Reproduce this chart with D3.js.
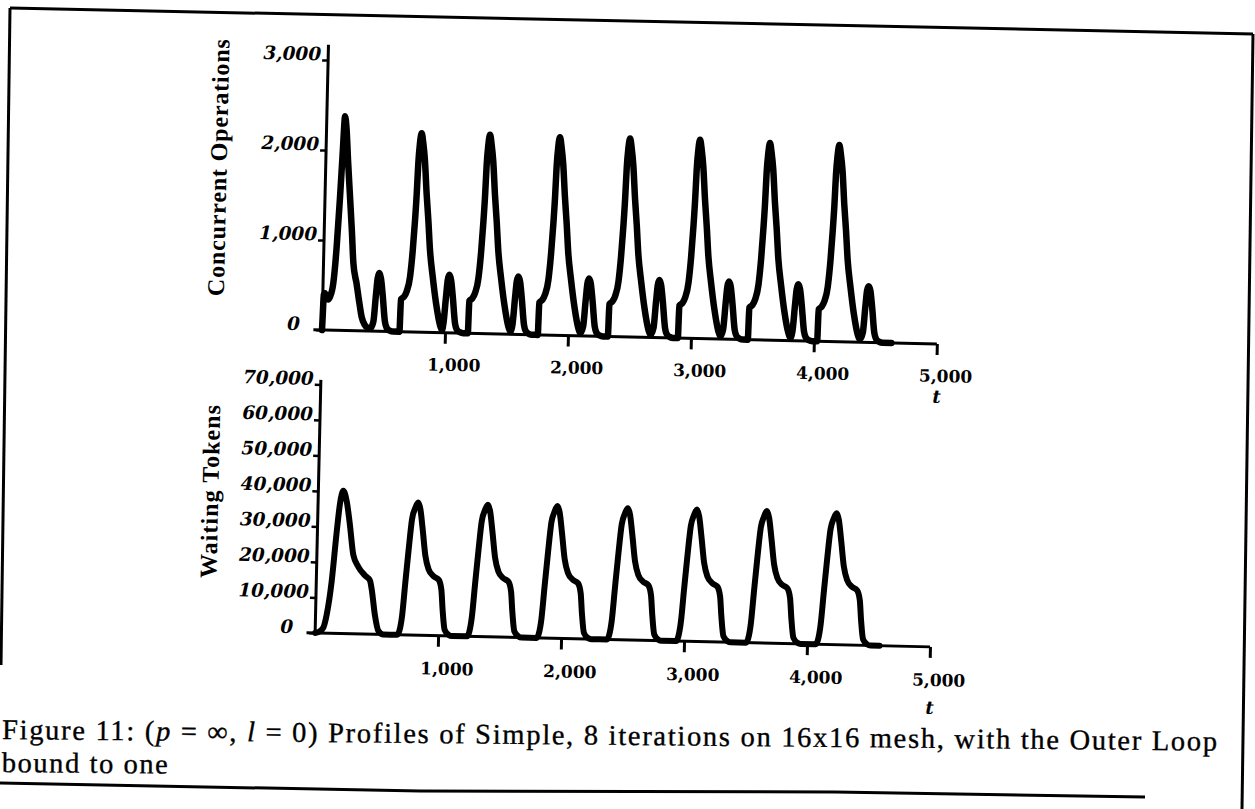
<!DOCTYPE html>
<html>
<head>
<meta charset="utf-8">
<script src="https://cdn.jsdelivr.net/npm/d3@7"></script>
<style>
    html, body { margin: 0; padding: 0; background: #ffffff; }
    svg { display: block; }
</style>
</head>
<body>
<div id="figure"></div>
<script>
// tick values
const tTicks = [1000, 2000, 3000, 4000, 5000];
const opsTicks = [0, 1000, 2000, 3000];
const tokenTicks = [0, 10000, 20000, 30000, 40000, 50000, 60000, 70000];

// [t, concurrent operations], one line per iteration
const concurrentOps = [
    [0,0],[3,150],[8,390],[18,410],[30,350],[45,340],[59,370],[83,520],[104,930],[122,1480],[135,1950],[148,2380],[162,2250],[180,1900],[203,1490],[225,1100],[242,760],[273,520],[300,300],[320,155],[345,70],[365,40],[395,35],[416,107],[432,402],[443,588],[455,648],[470,588],[487,402],[510,107],[525,40],[550,10],[580,0],
    [630,0],[636,360],[660,390],[681,450],[706,615],[723,910],[736,1245],[745,1545],[752,1875],[762,2100],[774,2210],[789,2100],[805,1915],[825,1545],[844,1250],[863,915],[890,620],[922,325],[958,85],[975,30],[986,107],[1002,402],[1013,588],[1025,645],[1040,588],[1057,402],[1080,107],[1095,40],[1120,10],[1150,0],
    [1186,0],[1192,360],[1216,390],[1237,450],[1262,615],[1279,910],[1292,1245],[1301,1545],[1308,1875],[1318,2100],[1330,2210],[1345,2100],[1361,1915],[1381,1545],[1400,1250],[1419,915],[1446,620],[1478,325],[1514,85],[1531,30],[1547,107],[1563,402],[1574,588],[1586,645],[1601,588],[1618,402],[1641,107],[1656,40],[1681,10],[1711,0],
    [1755,0],[1761,360],[1785,390],[1806,450],[1831,615],[1848,910],[1861,1245],[1870,1545],[1877,1875],[1887,2100],[1899,2200],[1914,2090],[1930,1905],[1950,1540],[1969,1245],[1988,910],[2015,620],[2047,325],[2083,85],[2100,30],[2122,107],[2138,402],[2149,585],[2161,640],[2176,585],[2193,402],[2216,107],[2231,40],[2256,10],[2286,0],
    [2325,0],[2331,360],[2355,390],[2376,450],[2401,615],[2418,910],[2431,1245],[2440,1545],[2447,1875],[2457,2100],[2469,2205],[2484,2095],[2500,1910],[2520,1540],[2539,1245],[2558,910],[2585,620],[2617,325],[2653,85],[2670,30],[2694,107],[2710,402],[2721,585],[2733,640],[2748,585],[2765,402],[2788,107],[2803,40],[2828,10],[2858,0],
    [2894,0],[2900,360],[2924,390],[2945,450],[2970,615],[2987,910],[3000,1245],[3009,1545],[3016,1875],[3026,2100],[3038,2210],[3053,2100],[3069,1915],[3089,1545],[3108,1250],[3127,915],[3154,620],[3186,325],[3222,85],[3239,30],[3260,107],[3276,402],[3287,585],[3299,640],[3314,585],[3331,402],[3354,107],[3369,40],[3394,10],[3424,0],
    [3463,0],[3469,355],[3493,385],[3514,445],[3539,610],[3556,900],[3569,1235],[3578,1530],[3585,1860],[3595,2080],[3607,2190],[3622,2080],[3638,1900],[3658,1530],[3677,1240],[3696,905],[3723,615],[3755,320],[3791,85],[3808,30],[3824,105],[3840,395],[3851,575],[3863,628],[3878,575],[3895,395],[3918,105],[3933,40],[3958,10],[3988,0],
    [4027,0],[4033,355],[4057,385],[4078,445],[4103,610],[4120,900],[4133,1235],[4142,1525],[4149,1855],[4159,2075],[4171,2185],[4186,2075],[4202,1895],[4222,1525],[4241,1235],[4260,905],[4287,615],[4319,320],[4355,85],[4372,30],[4396,105],[4412,395],[4423,575],[4435,625],[4450,575],[4467,395],[4490,105],[4505,40],[4530,10],[4560,0],[4630,0]
];

// [t, waiting tokens], one line per iteration
const waitingTokens = [
    [0,0],[30,300],[65,1500],[91,5300],[125,14650],[157,28700],[178,36500],[203,40200],[233,37200],[263,30600],[296,22200],[339,18900],[395,16500],[436,15100],[451,12800],[483,5300],[513,1000],[554,0],
    [668,0],[685,1200],[704,5500],[724,14850],[745,24200],[767,32700],[791,35800],[813,37400],[833,35500],[855,29900],[882,22400],[911,18600],[953,16700],[994,15800],[1018,13000],[1032,7300],[1052,1700],[1086,300],[1113,0],
    [1235,0],[1252,1200],[1271,5500],[1291,14800],[1312,24100],[1334,32600],[1358,35700],[1380,37200],[1400,35400],[1422,29800],[1449,22300],[1478,18500],[1520,16600],[1561,15700],[1585,12900],[1599,7200],[1619,1700],[1653,300],[1680,0],
    [1801,0],[1818,1200],[1837,5500],[1857,14800],[1878,24100],[1900,32600],[1924,35700],[1946,37300],[1966,35400],[1988,29800],[2015,22300],[2044,18500],[2086,16600],[2127,15700],[2151,12900],[2165,7200],[2185,1700],[2219,300],[2246,0],
    [2373,0],[2390,1200],[2409,5500],[2429,14800],[2450,24100],[2472,32500],[2496,35600],[2518,37100],[2538,35300],[2560,29700],[2587,22200],[2616,18400],[2658,16500],[2699,15600],[2723,12800],[2737,7200],[2757,1700],[2791,300],[2818,0],
    [2935,0],[2952,1200],[2971,5500],[2991,14800],[3012,24100],[3034,32500],[3058,35600],[3080,37200],[3100,35300],[3122,29700],[3149,22200],[3178,18400],[3220,16500],[3261,15600],[3285,12800],[3299,7200],[3319,1700],[3353,300],[3380,0],
    [3504,0],[3521,1200],[3540,5500],[3560,14800],[3581,24100],[3603,32500],[3627,35600],[3649,37200],[3669,35300],[3691,29700],[3718,22200],[3747,18400],[3789,16500],[3830,15600],[3854,12800],[3868,7200],[3888,1700],[3922,300],[3949,0],
    [4071,0],[4088,1200],[4107,5500],[4127,14700],[4148,24000],[4170,32400],[4194,35500],[4216,37000],[4236,35200],[4258,29600],[4285,22100],[4314,18300],[4356,16400],[4397,15500],[4421,12700],[4435,7100],[4455,1700],[4489,300],[4516,0],[4590,0]
];

const captionParts = [
    ["Figure 11: (", "normal"], ["p", "italic"], [" = \u221E, ", "normal"], ["l", "italic"],
    [" = 0) Profiles of Simple, 8 iterations on 16x16 mesh, with the Outer Loop", "normal"]
];
const captionLine2 = "bound to one";

(function (d3) {
    "use strict";

    const width = 1255;
    const height = 809;
    const serif = "'Liberation Serif', 'Times New Roman', serif";
    const numFont = "'DejaVu Serif', serif";
    const fmt = d3.format(",");

    const svg = d3.select("#figure")
        .append("svg")
            .attr("width", width)
            .attr("height", height);

    svg.append("rect")
        .attr("width", width)
        .attr("height", height)
        .attr("fill", "#ffffff");

    // the scanned page sits a little crooked
    const page = svg.append("g")
        .attr("transform", "rotate(1.3, 322, 330)");

    const x = d3.scaleLinear().domain([0, 5000]).range([322, 937]);

    const panels = [
        { data: concurrentOps, ticks: opsTicks, yDomain: [0, 3000], yRange: [330, 60], yTop: 3170,
          title: "Concurrent Operations", titleX: 223, titleY: 170, titleLen: 257,
          labelDy: 38, tDy: 59, stroke: 6.5 },
        { data: waitingTokens, ticks: tokenTicks, yDomain: [0, 70000], yRange: [633, 384.5], yTop: 71300,
          title: "Waiting Tokens", titleX: 222, titleY: 494, titleLen: 173,
          labelDy: 39, tDy: 67, stroke: 6 }
    ];

    const _drawPanel = function (p) {
        const y = d3.scaleLinear().domain(p.yDomain).range(p.yRange);
        const g = page.append("g");

        // axis lines
        g.append("line")
            .attr("x1", x(-70)).attr("x2", x(5000))
            .attr("y1", y(0)).attr("y2", y(0))
            .attr("stroke", "#000").attr("stroke-width", 3);
        g.append("line")
            .attr("x1", x(0)).attr("x2", x(0))
            .attr("y1", y(0)).attr("y2", y(p.yTop))
            .attr("stroke", "#000").attr("stroke-width", 3);

        const xAxis = g.append("g")
            .attr("transform", "translate(0," + y(0) + ")")
            .call(d3.axisBottom(x).tickValues(tTicks).tickSize(11).tickSizeOuter(0).tickFormat(fmt));
        xAxis.select(".domain").remove();
        xAxis.attr("font-family", numFont).attr("font-size", 17).attr("font-weight", "bold");
        xAxis.selectAll("line").attr("stroke-width", 3);
        xAxis.selectAll("text")
            .attr("dx", 9)
            .attr("y", p.labelDy)
            .attr("dy", 0);

        const yAxis = g.append("g")
            .attr("transform", "translate(" + x(0) + ",0)")
            .call(d3.axisLeft(y).tickValues(p.ticks).tickSize(6).tickSizeOuter(0).tickFormat(fmt));
        yAxis.select(".domain").remove();
        yAxis.attr("font-family", numFont).attr("font-size", 18.5)
            .attr("font-weight", "bold").attr("font-style", "italic");
        yAxis.selectAll("line").attr("stroke-width", 2.5);
        yAxis.selectAll("text")
            .attr("x", d => d === 0 ? -22 : -7)
            .attr("dy", 0);

        g.append("text")
            .attr("x", x(5000) + 1)
            .attr("y", y(0) + p.tDy)
            .attr("text-anchor", "middle")
            .attr("font-family", numFont)
            .attr("font-size", 18)
            .attr("font-weight", "bold")
            .attr("font-style", "italic")
            .text("t");

        g.append("text")
            .attr("transform", "translate(" + p.titleX + "," + p.titleY + ") rotate(-90)")
            .attr("text-anchor", "middle")
            .attr("font-family", serif)
            .attr("font-size", 24)
            .attr("font-weight", "bold")
            .attr("textLength", p.titleLen)
            .attr("lengthAdjust", "spacing")
            .text(p.title);

        const line = d3.line()
            .x(d => x(d[0]))
            .y(d => y(d[1]))
            .curve(d3.curveMonotoneX);

        g.append("path")
            .datum(p.data)
            .attr("d", line)
            .attr("fill", "none")
            .attr("stroke", "#000")
            .attr("stroke-width", p.stroke)
            .attr("stroke-linejoin", "round")
            .attr("stroke-linecap", "round");
    };

    panels.forEach(_drawPanel);

    // caption, tilted a bit less than the plots
    const caption = svg.append("g")
        .attr("transform", "rotate(0.55, 2, 739)")
        .attr("font-family", serif)
        .attr("font-size", 28.5)
        .attr("stroke", "#000")
        .attr("stroke-width", 0.35)
        .attr("fill", "#000");

    const line1 = caption.append("text")
        .attr("x", 2)
        .attr("y", 739)
        .attr("textLength", 1215)
        .attr("lengthAdjust", "spacing");
    line1.selectAll("tspan")
        .data(captionParts)
        .enter()
        .append("tspan")
            .attr("font-style", d => d[1])
            .text(d => d[0]);

    caption.append("text")
        .attr("x", 2)
        .attr("y", 772)
        .attr("textLength", 166)
        .attr("lengthAdjust", "spacing")
        .text(captionLine2);

    // frame of the figure box
    const frame = [
        [[10, 8], [1253, 34]],
        [[10, 8], [1, 665]],
        [[1253, 34], [1242, 809]],
        [[0, 783], [420, 791], [835, 792], [1145, 797]]
    ];
    svg.selectAll("path.frame")
        .data(frame)
        .enter()
        .append("path")
            .attr("class", "frame")
            .attr("d", d => d3.line()(d))
            .attr("fill", "none")
            .attr("stroke", "#000")
            .attr("stroke-width", 3);
})(d3);
</script>
</body>
</html>
